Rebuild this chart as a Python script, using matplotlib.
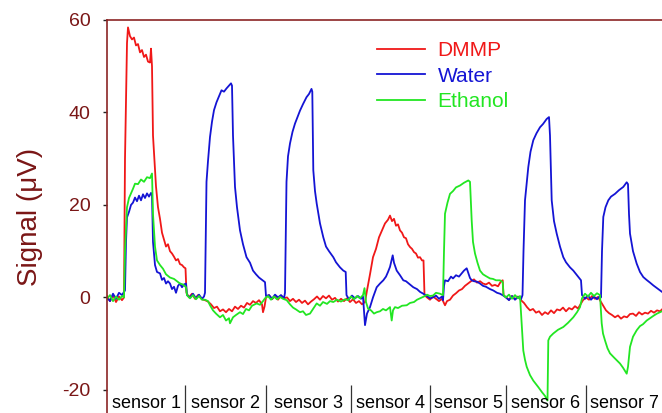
import matplotlib.pyplot as plt

plt.rcParams["font.family"] = ["Liberation Sans", "DejaVu Sans"]
plt.rcParams["axes.unicode_minus"] = False

# time index (arbitrary units) and signal in microvolts
dmmp_t = [107, 110, 113, 116, 119, 122, 124, 125, 127, 128, 130, 132, 134, 136, 138, 140, 142, 144,
          146, 148, 150, 151, 152, 153, 155, 156, 158, 160, 162, 164, 166, 168, 170, 172, 174, 176,
          178, 180, 182, 184, 185.5, 186.5, 189, 192, 195, 198, 202, 205, 208, 211, 214, 217, 220,
          223, 226, 229, 232, 235, 238, 241, 244, 247, 250, 253, 256, 259, 262, 263, 264.5, 266,
          269, 272, 275, 278, 281, 284, 287, 290, 293, 296, 299, 302, 305, 308, 311, 314, 317, 320,
          323, 326, 329, 332, 335, 338, 341, 344, 347, 350, 353, 356, 359, 362, 365, 367, 370, 373,
          376, 379, 382, 385, 388, 390, 392, 394, 396, 398, 400, 402, 404, 406, 408, 410, 412, 414,
          416, 418, 420, 422, 423.5, 424.5, 427, 430, 433, 436, 439, 442, 445, 447, 450, 453, 456,
          459, 462, 465, 468, 471, 474, 477, 480, 483, 486, 489, 492, 495, 498, 501, 502.7, 503.5,
          506, 509, 512, 515, 518, 521, 524, 527, 530, 533, 536, 539, 542, 545, 548, 551, 554, 557,
          560, 563, 566, 569, 572, 575, 578, 581, 583, 586, 589, 592, 595, 598, 601, 603, 606, 609,
          612, 615, 618, 621, 624, 627, 630, 633, 636, 639, 642, 645, 648, 651, 654, 657, 660, 662]
dmmp_v = [0.3, -0.8, 0.5, -1.0, 0.2, -0.6, 0.0, 30, 55, 58.4, 56.5, 55.8, 56.2, 54.5, 54.8, 53.0,
          53.5, 52.0, 52.5, 51.0, 50.8, 53.8, 50, 35, 27.5, 24, 19.5, 17, 14, 12.5, 11, 11.5, 10,
          9.5, 8.8, 8, 8.3, 7.2, 7, 6.5, 6.3, 1.0, 0.0, 0.8, -0.3, 0.5, -0.4, -0.6, -0.9, -1.5,
          -2.3, -2.0, -3.0, -2.6, -3.2, -2.5, -3.0, -2.0, -2.5, -1.8, -2.2, -1.2, -1.6, -0.8, -1.2,
          -0.6, -1.5, -3.2, -2.0, 0.0, 0.5, -0.4, 0.3, -0.5, 0.4, -0.2, 0.0, -0.8, -0.3, -1.0, -0.5,
          -1.2, -0.7, -1.5, -0.9, -0.4, 0.2, -0.5, 0.3, -0.2, 0.4, -0.5, -0.1, -0.9, -0.3, -0.8,
          -0.2, -1.0, -0.4, -1.2, -0.8, -1.5, -1.0, 1.5, 5.0, 8.7, 10.5, 13.0, 14.5, 16.0, 16.8,
          17.7, 16.5, 17.0, 15.5, 15.8, 14.5, 14.0, 13.0, 12.8, 11.5, 10.9, 10.5, 9.8, 9.5, 8.6,
          8.7, 8.0, 8.0, 0.5, 0.0, -0.5, 0.2, -0.3, -0.8, -0.3, -1.7, -0.8, -0.5, 0.4, 0.9, 1.5,
          1.8, 2.5, 3.0, 3.5, 3.9, 3.2, 3.5, 3.0, 2.8, 3.2, 2.5, 2.7, 2.4, 3.5, 3.7, 0.5, 0.0, -0.5,
          0.3, -0.4, 0.2, -0.6, -1.2, -2.1, -2.8, -2.5, -3.3, -3.0, -3.8, -3.2, -3.6, -2.8, -3.4,
          -2.6, -2.8, -2.2, -3.0, -2.3, -2.6, -1.9, -2.4, -1.3, -0.6, 0.0, -0.5, 0.3, -0.3, 0.1,
          -1.0, -1.7, -2.8, -3.4, -3.8, -4.3, -3.9, -4.6, -4.1, -4.3, -3.6, -3.5, -4.0, -3.2, -3.7,
          -3.3, -3.5, -2.9, -3.3, -2.8, -3.0, -2.6]

water_t = [107, 110, 113, 116, 119, 122, 124, 125, 126, 127, 129, 131, 133, 135, 137, 139, 141, 143,
           145, 147, 149, 151, 152, 153, 155, 157, 160, 162, 164, 166, 168, 170, 172, 174, 176, 178,
           180, 182, 184, 186, 187, 190, 193, 196, 199, 202, 204, 205, 206.5, 208, 210, 212, 214,
           216.5, 219, 221.5, 224, 226.5, 229, 231, 232, 233, 235, 237, 240, 243, 246.5, 250, 253,
           256, 259, 262, 265, 266, 269, 272, 275, 278, 281, 284, 285, 286.5, 288, 290, 292.5, 295,
           297.5, 300, 303, 306.5, 309, 311.5, 312.3, 313.3, 315, 316.7, 320, 323.3, 326, 329,
           333.3, 336, 340, 343.3, 345.7, 346.5, 349, 352, 355, 358, 361, 363, 365, 367, 370, 373,
           376.7, 380, 383.3, 386, 388, 390, 391.5, 392.7, 394, 396.7, 400, 403.3, 406, 410, 413.3,
           417, 420, 423.3, 427, 430, 433, 436, 439, 442, 443, 444, 445, 448, 451, 453, 456, 459,
           461.7, 464, 466.7, 468, 470, 471.7, 474, 477, 480, 483, 486, 490, 493.3, 497, 500, 503.3,
           506, 509, 512, 515, 518, 521, 522.5, 523.5, 525, 528.3, 530.5, 533.3, 536.5, 540, 543,
           546.7, 549, 550, 551.7, 554, 556.7, 560, 563.3, 566, 570, 573.3, 577, 581, 582, 585, 588,
           591, 594, 597, 600, 601, 602, 603.3, 605.5, 608.3, 611, 615, 619, 623.3, 626.7, 628,
           629, 630, 633, 636.7, 640, 643.3, 646.5, 650, 653.3, 657, 660, 662]
water_v = [0.0, -0.8, 0.8, -0.3, 1.0, 0.5, 1.2, 1.5, 12, 17.3, 18.5, 20.0, 20.5, 21.6, 20.8, 22.0,
           21.0, 22.3, 21.5, 22.5, 21.8, 22.6, 22.0, 12, 7.0, 5.5, 5.2, 3.8, 4.2, 3.0, 3.5, 3.0, 1.8,
           2.3, 1.0, 2.5, 3.0, 2.2, 2.8, 3.0, 0.5, 0.0, 0.8, -0.2, 0.6, -0.3, 0.2, 1.0, 25, 29.5,
           34.7, 38.0, 40.5, 42.2, 43.5, 44.8, 44.5, 45.2, 45.8, 46.3, 45.8, 35, 23.9, 19.5, 14.5,
           11.5, 8.7, 7.5, 5.8, 5.0, 4.3, 3.8, 3.3, 0.3, 0.5, -0.3, 0.6, 0.0, 0.5, -0.2, 1.0, 25,
           30.5, 33.3, 35.8, 37.6, 39.0, 40.4, 41.8, 43.3, 44.0, 45.1, 44.5, 27.5, 23.0, 20.3, 16.0,
           13.0, 11.0, 10.0, 8.7, 7.6, 6.5, 5.8, 5.5, 0.5, -0.4, 0.4, -0.2, 0.3, -0.3, 0.2, -6.0,
           -3.5, -2.1, 0.0, 2.2, 3.0, 3.7, 4.5, 5.5, 6.6, 8.0, 9.1, 7.5, 5.8, 4.8, 3.7, 3.5, 2.8,
           2.2, 1.8, 1.2, 0.8, 0.3, -0.2, 0.0, 0.4, -0.3, 0.2, -0.6, 2.5, 3.7, 3.5, 4.5, 4.1, 4.8,
           4.5, 5.2, 5.8, 6.3, 5.5, 4.2, 3.7, 3.5, 3.4, 3.0, 2.5, 2.3, 1.8, 1.5, 1.0, 0.8, 0.4,
           0.0, -0.6, 0.3, -0.5, 0.1, -0.4, 0.5, 10, 21.0, 28.2, 31.5, 34.0, 35.5, 36.8, 37.5, 38.6,
           39.0, 35, 21.0, 16.5, 13.8, 11.0, 8.7, 7.6, 6.5, 5.8, 4.8, 3.7, 0.5, -0.3, 0.4, -0.5,
           0.2, -0.4, 0.3, 0.0, 10, 17.4, 19.5, 21.0, 21.8, 22.4, 23.2, 23.9, 24.9, 24.5, 18, 13.8,
           10.0, 7.3, 5.5, 4.4, 3.8, 3.2, 2.6, 2.0, 1.5, 1.2]

ethanol_t = [107, 110, 113, 116, 119, 122, 124, 125, 127, 129, 131, 133, 135, 138, 141, 144, 147,
             150, 152, 153, 155, 157, 160, 163, 166, 170, 174, 177, 180, 183, 186, 187, 190, 193,
             196, 199, 202, 205, 208, 210, 213, 216, 220, 223, 226, 229, 230, 233, 236, 240, 243,
             246, 249, 252, 256.7, 260, 263, 265, 268, 271, 274, 277, 280, 283, 286.7, 290, 293,
             296, 300, 303, 306, 310, 313, 316.7, 320, 323, 327, 330, 333.3, 337, 341, 345, 348,
             351, 354, 357, 360, 363, 364.5, 366, 368, 371, 374, 376.7, 380, 383, 386, 390, 391.7,
             393, 395, 398, 402, 406.7, 410, 414, 417, 420, 424, 427, 430, 433, 436, 440, 443, 444,
             445, 447.5, 450, 453, 456, 460, 464, 468.3, 470, 471.7, 473, 475, 477.5, 480, 483, 486,
             490, 493, 496, 500, 502.7, 503.5, 506, 509, 512, 515, 518, 520, 521.7, 523.3, 525,
             526.7, 530, 533.3, 538.3, 542, 545, 547.5, 548.3, 550, 553.3, 558, 563.3, 568, 573.3,
             577, 580, 582, 585, 588, 591, 594, 597, 600, 601.7, 603, 605, 607.5, 610, 614, 620, 623,
             626.7, 628, 630, 633, 636.7, 640, 643, 646.7, 650, 654, 657, 660, 662]
ethanol_v = [-0.3, 0.5, -0.8, 0.2, -0.5, 0.3, 0.0, 10, 19.5, 21.5, 22.5, 23.5, 24.6, 24.5, 25.5,
             25.0, 26.0, 25.8, 26.8, 18, 11, 8.0, 7.0, 6.2, 5.0, 4.3, 4.0, 3.5, 3.0, 2.8, 2.2, 0.5,
             -0.2, 0.5, -0.4, 0.3, -0.5, -0.5, -0.8, -1.7, -2.8, -3.5, -4.3, -3.8, -5.0, -4.5, -5.6,
             -4.3, -3.8, -3.2, -3.6, -2.5, -2.8, -1.8, -1.3, -1.6, -0.8, -0.2, 0.3, -0.5, 0.2, -0.4,
             0.1, -0.3, -0.6, -1.5, -2.2, -2.6, -3.2, -3.0, -3.8, -3.5, -2.5, -1.3, -1.8, -1.0, -1.4,
             -0.8, -1.0, -0.5, -0.9, -0.4, -0.6, 0.2, -0.4, 0.3, -0.2, 0.5, 2.0, -1.0, -2.4, -2.8,
             -3.5, -3.2, -3.0, -2.5, -2.8, -2.1, -5.0, -2.8, -2.1, -2.3, -1.8, -1.7, -1.2, -1.0,
             -0.5, -0.2, 0.2, 0.6, 0.3, 0.4, 1.0, 0.8, 0.5, 10, 18.1, 20.5, 22.4, 23.0, 23.8, 24.2,
             24.8, 25.3, 25.0, 16.6, 12.0, 9.5, 7.5, 5.8, 5.0, 4.6, 4.1, 4.0, 3.7, 3.7, 3.3, 0.5,
             0.0, 0.6, -0.3, 0.5, -0.2, 0.3, -5.6, -11.5, -13.5, -15.0, -16.8, -18.0, -19.4, -20.5,
             -21.3, -22.3, -9.3, -8.5, -7.8, -7.0, -6.4, -5.5, -4.3, -3.2, -2.1, -0.2, 0.8, 0.2, 1.0,
             0.3, 0.9, 0.5, -5.6, -7.8, -9.3, -11.0, -12.1, -13.0, -14.3, -15.2, -16.5, -15.0, -10.7,
             -8.5, -7.1, -6.2, -5.8, -5.0, -4.5, -3.9, -3.5, -3.2, -3.0]

sensor_edges = [107, 185, 266, 351, 430, 506, 586, 662]
sensor_labels = ["sensor 1", "sensor 2", "sensor 3", "sensor 4", "sensor 5", "sensor 6", "sensor 7"]

maroon = "#7a1616"
fig = plt.figure(figsize=(6.62, 4.13), dpi=100)
ax = fig.add_axes([107 / 662, 0.0, 1 - 107 / 662, 1 - 20 / 413])

ax.plot(dmmp_t, dmmp_v, color="#f01818", lw=1.3, label="DMMP")
ax.plot(water_t, water_v, color="#1414d4", lw=1.3, label="Water")
ax.plot(ethanol_t, ethanol_v, color="#22e622", lw=1.3, label="Ethanol")

ax.set_xlim(sensor_edges[0], sensor_edges[-1])
ax.set_ylim(-25, 60)
ax.set_yticks([-20, 0, 20, 40, 60])
ax.set_xticks([])
ax.tick_params(axis="y", length=3, width=1, color="#222222", pad=9,
               labelsize=14, labelcolor=maroon)
for side in ["right", "bottom"]:
    ax.spines[side].set_visible(False)
for side in ["left", "top"]:
    ax.spines[side].set_color("#8b2525")
    ax.spines[side].set_linewidth(1.2)
ax.set_ylabel("Signal (\u03bcV)", fontsize=20, color=maroon, labelpad=14)

# sensor separators and labels along the bottom
ax.vlines(sensor_edges[1:-1], -25, -19, color="#333333", lw=0.9)
for i, name in enumerate(sensor_labels):
    mid = (sensor_edges[i] + sensor_edges[i + 1]) / 2
    ax.text(mid, -22.9, name, ha="center", va="center", fontsize=13, color="black")

leg = ax.legend(loc="upper left", bbox_to_anchor=(377 / 662, 1 - 41 / 413),
                bbox_transform=fig.transFigure, frameon=False, fontsize=15,
                handlelength=2.3, handletextpad=0.6, labelspacing=0.32,
                borderpad=0, borderaxespad=0)
for text, line in zip(leg.get_texts(), leg.get_lines()):
    text.set_color(line.get_color())

fig.savefig("out.png", dpi=100)
